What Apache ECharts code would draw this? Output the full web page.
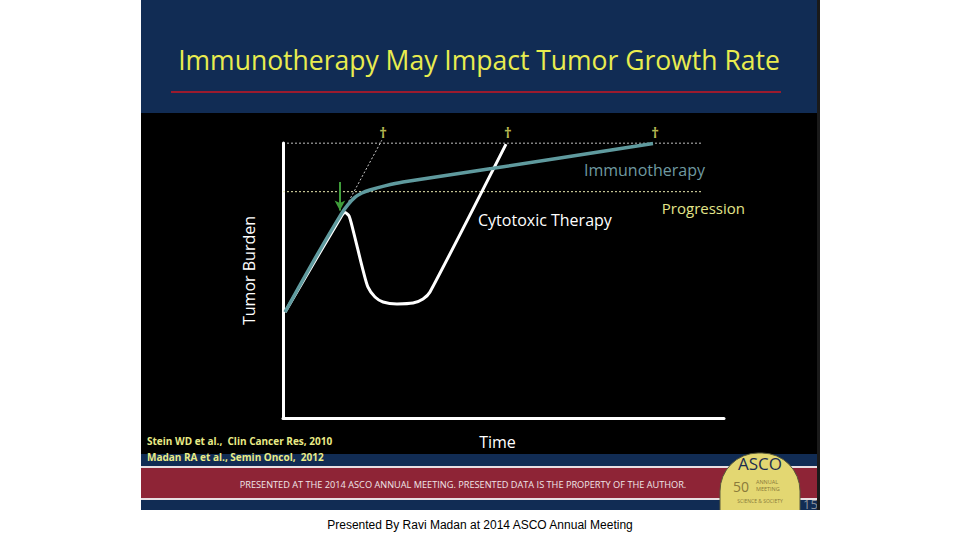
<!DOCTYPE html>
<html>
<head>
<meta charset="utf-8">
<script src="https://cdn.jsdelivr.net/npm/echarts@6/dist/echarts.min.js"></script>
<style>html,body{margin:0;padding:0;background:#fff}#c{width:960px;height:540px}</style>
</head>
<body>
<div id="c"></div>
<script>
// Data (time 0-100, tumor burden 0-100)
const immunoTime   = [0.45, 6.8, 13.3, 14.7, 16.3, 17.9, 19.7, 23.1, 27.2, 47.3, 83.9];
const immunoBurden = [38.5, 56.7, 74.4, 77.5, 80.2, 81.8, 82.9, 84.4, 85.8, 90.7, 99.8];
const cytoTime     = [0.45, 13.15, 14.06, 14.97, 15.87, 17.0, 18.14, 19.27, 20.86, 22.68, 25.85, 29.48, 31.75, 33.33, 50.57];
const cytoBurden   = [38.5, 73.1, 74.7, 73.5, 68.4, 61.1, 53.8, 47.6, 44.0, 42.2, 41.5, 41.8, 43.3, 45.8, 99.6];
const projTime     = [13.6, 22.4];
const projBurden   = [74.9, 101.0];
const deathTime    = [22.7, 51.0, 84.4];
const deathLevel   = 104;
const topLevel     = 100;
const progressionLevel = 82.3;
const refLineEnd   = 95.2;
const arrowTime    = 12.9;
const arrowFrom    = 85.8;
const arrowTo      = 75.5;

const zip = (a, b) => a.map((v, i) => [v, b[i]]);

const chart = echarts.init(document.getElementById('c'), null, {renderer: 'svg'});
const F = "'Open Sans', sans-serif";

chart.setOption({
  backgroundColor: '#ffffff',
  animation: false,
  grid: {left: 283, top: 143, width: 441, height: 275},
  xAxis: {
    type: 'value', min: 0, max: 100,
    name: 'Time', nameLocation: 'middle', nameGap: 16,
    nameTextStyle: {color: '#ffffff', fontSize: 16, fontFamily: F, padding: [0, 12, 0, 0]},
    axisLine: {show: true, lineStyle: {color: '#ffffff', width: 3}},
    axisTick: {show: false}, axisLabel: {show: false}, splitLine: {show: false}
  },
  yAxis: {
    type: 'value', min: 0, max: 100,
    name: 'Tumor Burden', nameLocation: 'middle', nameGap: 26, nameRotate: 90,
    nameTextStyle: {color: '#ffffff', fontSize: 16, fontFamily: F, padding: [0, 0, 0, 20]},
    axisLine: {show: true, lineStyle: {color: '#ffffff', width: 3}},
    axisTick: {show: false}, axisLabel: {show: false}, splitLine: {show: false}
  },
  graphic: [
    {type: 'rect', z: -10, shape: {x: 141, y: 0, width: 678, height: 510}, style: {fill: '#000000'}},
    {type: 'rect', z: -9, shape: {x: 141, y: 0, width: 676, height: 113}, style: {fill: '#112c54'}},
    {type: 'rect', z: -9, shape: {x: 171, y: 91, width: 610, height: 2}, style: {fill: '#9b1b2e'}},
    {type: 'text', z: 5, style: {text: 'Immunotherapy May Impact Tumor Growth Rate', x: 479, y: 60, align: 'center', verticalAlign: 'middle', fill: '#e9ec4f', font: "26.5px 'Open Sans', sans-serif"}},
    {type: 'rect', z: -9, shape: {x: 141, y: 454, width: 676, height: 56}, style: {fill: '#112c54'}},
    {type: 'rect', z: -8, shape: {x: 141, y: 466, width: 676, height: 34}, style: {fill: '#e8dfe2'}},
    {type: 'rect', z: -7, shape: {x: 141, y: 468, width: 676, height: 30}, style: {fill: '#8e2436'}},
    {type: 'text', z: 5, style: {text: 'PRESENTED AT THE 2014 ASCO ANNUAL MEETING. PRESENTED DATA IS THE PROPERTY OF THE AUTHOR.', x: 463, y: 484, align: 'center', verticalAlign: 'middle', fill: '#f0e6e8', font: "9.2px 'Open Sans', sans-serif"}},
    {type: 'text', z: 5, style: {text: 'Stein WD et al.,  Clin Cancer Res, 2010', x: 147, y: 441, verticalAlign: 'middle', fill: '#e9eb86', font: "bold 10px 'Open Sans', sans-serif"}},
    {type: 'text', z: 5, style: {text: 'Madan RA et al., Semin Oncol,  2012', x: 147, y: 457, verticalAlign: 'middle', fill: '#e9eb86', font: "bold 10px 'Open Sans', sans-serif"}},
    // ASCO logo
    {type: 'rect', z: 3, shape: {x: 720, y: 453, width: 80, height: 95, r: [38, 38, 30, 30]}, style: {fill: '#e3d772', stroke: '#5a5a3a', lineWidth: 1}},
    {type: 'text', z: 5, style: {text: 'ASCO', x: 760, y: 463, align: 'center', verticalAlign: 'middle', fill: '#1d2d4f', font: "17px 'Open Sans', sans-serif"}},
    {type: 'text', z: 5, style: {text: '50', x: 733, y: 486, verticalAlign: 'middle', fill: '#8a7a3a', font: "14px 'Open Sans', sans-serif"}},
    {type: 'text', z: 5, style: {text: 'ANNUAL', x: 756, y: 482, verticalAlign: 'middle', fill: '#8a7a3a', font: "5.5px 'Open Sans', sans-serif"}},
    {type: 'text', z: 5, style: {text: 'MEETING', x: 756, y: 489, verticalAlign: 'middle', fill: '#8a7a3a', font: "5.5px 'Open Sans', sans-serif"}},
    {type: 'text', z: 5, style: {text: 'SCIENCE & SOCIETY', x: 760, y: 501, align: 'center', verticalAlign: 'middle', fill: '#8a7a3a', font: "5px 'Open Sans', sans-serif"}},
    {type: 'text', z: 5, style: {text: '15', x: 803, y: 504, verticalAlign: 'middle', fill: '#8a8f9a', font: "13px 'Open Sans', sans-serif"}},
    {type: 'rect', z: 6, shape: {x: 817, y: 0, width: 3, height: 510}, style: {fill: '#1a1a1a'}},
    {type: 'rect', z: 6, shape: {x: 0, y: 510, width: 960, height: 30}, style: {fill: '#ffffff'}},
    {type: 'text', z: 7, style: {text: 'Presented By Ravi Madan at 2014 ASCO Annual Meeting', x: 480, y: 525, align: 'center', verticalAlign: 'middle', fill: '#000000', font: "12px 'Liberation Sans', Arial, sans-serif"}},
    // series annotations
    {type: 'text', z: 5, style: {text: 'Immunotherapy', x: 705, y: 170, align: 'right', verticalAlign: 'middle', fill: '#6f9aa0', font: "16px 'Open Sans', sans-serif"}},
    {type: 'text', z: 5, style: {text: 'Progression', x: 745, y: 208, align: 'right', verticalAlign: 'middle', fill: '#e3e58a', font: "15px 'Open Sans', sans-serif"}},
    {type: 'text', z: 5, style: {text: 'Cytotoxic Therapy', x: 478, y: 220, verticalAlign: 'middle', fill: '#ffffff', font: "16px 'Open Sans', sans-serif"}}
  ],
  series: [
    {type: 'line', name: 'Top', data: [[0, topLevel], [refLineEnd, topLevel]], symbol: 'none', silent: true,
     lineStyle: {color: '#ffffff', width: 1, type: [2, 2]}},
    {type: 'line', name: 'Progression', data: [[0, progressionLevel], [refLineEnd, progressionLevel]], symbol: 'none', silent: true,
     lineStyle: {color: '#e8e8b0', width: 1, type: [2, 2]}},
    {type: 'line', name: 'Projection', data: zip(projTime, projBurden), symbol: 'none', clip: false,
     lineStyle: {color: '#cccccc', width: 1, type: [2, 2]}},
    {type: 'line', name: 'Cytotoxic Therapy', data: zip(cytoTime, cytoBurden), symbol: 'none', smooth: 0.25,
     lineStyle: {color: '#ffffff', width: 3}},
    {type: 'line', name: 'Immunotherapy', data: zip(immunoTime, immunoBurden), symbol: 'none', smooth: 0.3,
     lineStyle: {color: '#5f9a9e', width: 3.5}},
    {type: 'scatter', name: 'Death', data: deathTime.map(t => [t, deathLevel]), symbolSize: 1, clip: false,
     itemStyle: {color: 'rgba(0,0,0,0)'},
     label: {show: true, formatter: '\u2020', position: 'inside', color: '#e9eb6a', fontSize: 15, fontWeight: 'bold', fontFamily: F}},
    {type: 'line', name: 'Treatment', data: [], symbol: 'none',
     markLine: {silent: true, symbol: ['none', 'arrow'], symbolSize: [8, 10], label: {show: false},
       lineStyle: {color: '#3f9c3a', width: 2, type: 'solid'},
       data: [[{coord: [arrowTime, arrowFrom]}, {coord: [arrowTime, arrowTo]}]]}}
  ]
});
</script>
</body>
</html>
